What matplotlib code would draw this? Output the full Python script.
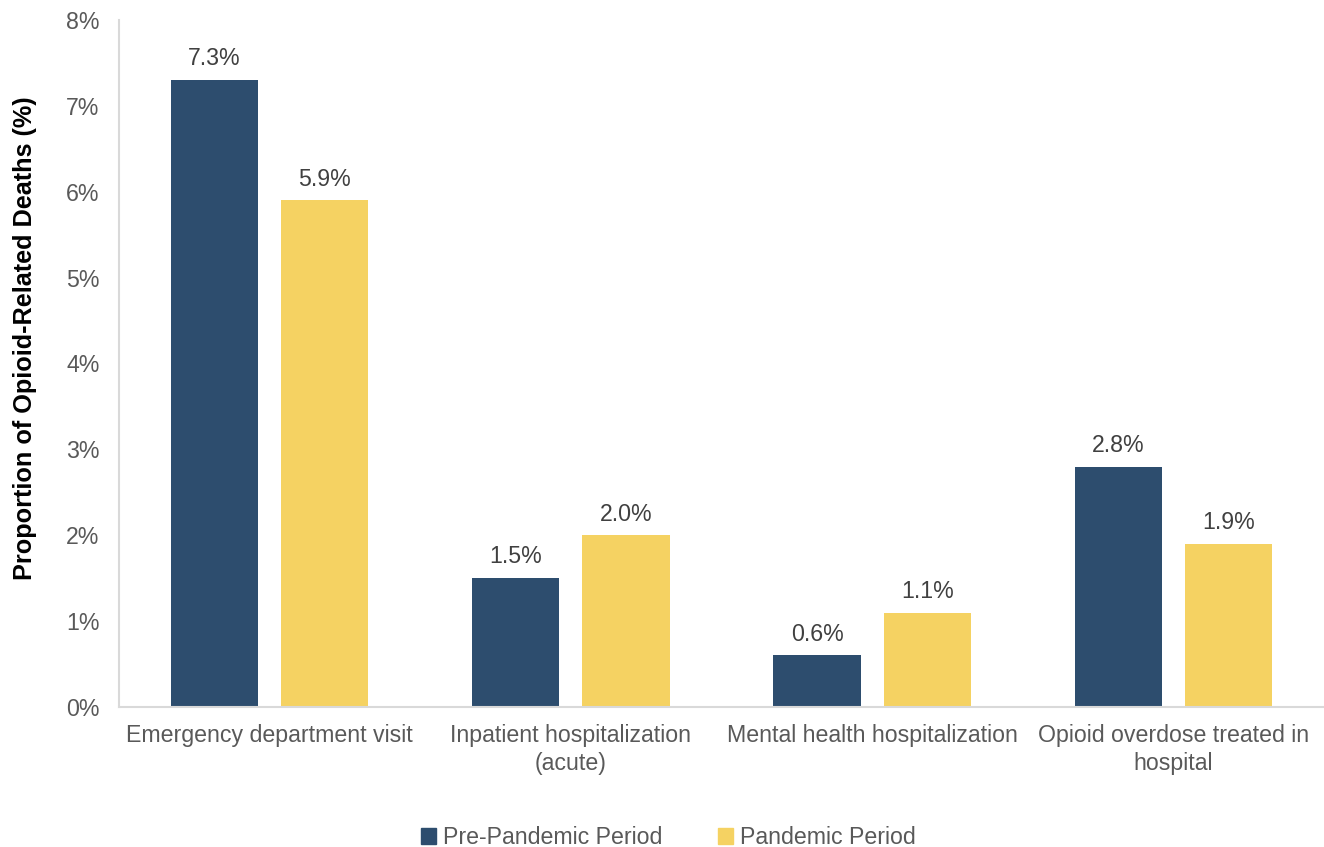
import numpy as np
import matplotlib.pyplot as plt
from matplotlib.patches import Patch

plt.rcParams['font.family'] = ['Liberation Sans', 'DejaVu Sans']

# Opioid-related deaths by prior healthcare contact
categories = [
    'Emergency department visit',
    'Inpatient hospitalization\n(acute)',
    'Mental health hospitalization',
    'Opioid overdose treated in\nhospital',
]
pre_pandemic = [7.3, 1.5, 0.6, 2.8]
pandemic = [5.9, 2.0, 1.1, 1.9]
series_names = ['Pre-Pandemic Period', 'Pandemic Period']

NAVY = '#2D4D6E'
YELLOW = '#F5D262'
GREY_TEXT = '#595959'
AXIS_GREY = '#D9D9D9'
FS = 16.7

fig = plt.figure(figsize=(13.24, 8.47), dpi=100)
ax = fig.add_axes([0.0899, 0.1653, 0.9101, 0.8111])

x = np.arange(len(categories))
width = 0.29
offset = 0.183

bars_pre = ax.bar(x - offset, pre_pandemic, width, color=NAVY)
bars_pan = ax.bar(x + offset, pandemic, width, color=YELLOW)

for bars, vals in [(bars_pre, pre_pandemic), (bars_pan, pandemic)]:
    for b, v in zip(bars, vals):
        ax.annotate(f'{v:.1f}%', (b.get_x() + b.get_width() / 2, v),
                    xytext=(0, 7), textcoords='offset points',
                    ha='center', va='bottom', fontsize=FS, color='#404040')

ax.set_xlim(-0.5, 3.5)
ax.set_ylim(0, 8)
ax.set_yticks(range(0, 9))
ax.set_yticklabels([f'{i}%' for i in range(0, 9)])
ax.set_xticks(x)
ax.set_xticklabels(categories, fontsize=FS, color=GREY_TEXT, linespacing=1.3)
ax.tick_params(axis='y', length=0, pad=14, labelsize=FS, labelcolor=GREY_TEXT)
ax.tick_params(axis='x', length=0, pad=12)

for side in ['top', 'right']:
    ax.spines[side].set_visible(False)
for side in ['left', 'bottom']:
    ax.spines[side].set_color(AXIS_GREY)
    ax.spines[side].set_linewidth(1.5)

ax.set_ylabel('Proportion of Opioid-Related Deaths (%)', fontsize=18.2,
              fontweight='bold', color='black', va='center')
ax.yaxis.set_label_coords(-0.078, 0.537)

handles = [Patch(color=NAVY), Patch(color=YELLOW)]
fig.legend(handles, series_names, loc='center', bbox_to_anchor=(0.505, 0.011),
           ncol=2, frameon=False, fontsize=FS, labelcolor=GREY_TEXT,
           handlelength=0.65, handleheight=0.65, handletextpad=0.3,
           columnspacing=2.4)

fig.savefig('out.png', dpi=100)
